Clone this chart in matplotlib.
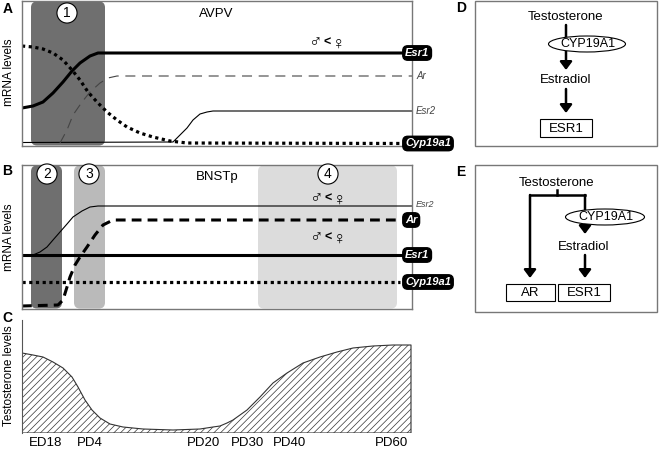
import matplotlib.pyplot as plt
from matplotlib.patches import FancyBboxPatch, Ellipse, Rectangle, FancyArrowPatch

plt.rcParams['font.family'] = ['Liberation Sans', 'DejaVu Sans']
plt.rcParams['hatch.linewidth'] = 0.5

# x = schematic developmental position (same scale for A, B, C), y = relative level

# panel A, AVPV
a_esr1_x = [0, 11, 21, 31, 41, 50, 58, 68, 76, 390]
a_esr1_y = [38, 40, 44, 53, 64, 75, 83, 90, 93, 93]
a_cyp_x = [0, 11, 21, 31, 41, 50, 58, 66, 75, 85, 95, 105, 118, 131, 148, 165, 390]
a_cyp_y = [100, 99, 97, 93, 86, 76, 66, 54, 44, 34, 26, 19, 13, 9, 5, 3, 2.5]
a_ar_x = [38, 45, 51, 60, 68, 78, 86, 95, 390]
a_ar_y = [3, 16, 31, 44, 54, 63, 68, 70, 70]
a_esr2_x = [0, 151, 158, 165, 171, 178, 185, 191, 390]
a_esr2_y = [3.5, 4, 11, 18, 26, 32, 34, 35, 35]

# panel B, BNSTp
b_esr1_x = [0, 390]
b_esr1_y = [54, 54]
b_cyp_x = [0, 378]
b_cyp_y = [27, 27]
b_ar_x = [0, 36, 41, 45, 48, 53, 58, 65, 73, 81, 91, 378]
b_ar_y = [3, 4, 9, 22, 32, 44, 52, 62, 74, 84, 89, 89]
b_esr2_x = [11, 18, 25, 31, 38, 45, 51, 60, 68, 76, 390]
b_esr2_y = [54, 57, 62, 69, 77, 85, 92, 98, 102, 103, 103]

# panel C, testosterone
c_x = [0, 11, 21, 31, 41, 50, 56, 63, 70, 78, 88, 101, 121, 151, 178, 191, 198,
       205, 211, 225, 238, 251, 265, 281, 298, 315, 331, 351, 371, 389]
c_y = [80, 78, 76, 71, 65, 56, 46, 33, 23, 15, 9, 6, 4, 3, 4, 6, 7,
       10, 13, 23, 36, 50, 60, 70, 76, 81, 85, 87, 88, 88]
c_ticks = [24, 68, 181, 225, 267, 370]
c_labels = ['ED18', 'PD4', 'PD20', 'PD30', 'PD40', 'PD60']

W, H = 661, 449
fig = plt.figure(figsize=(W / 100, H / 100), dpi=100)


def px_axes(l, t, r, b):
    return fig.add_axes([l / W, 1 - b / H, (r - l) / W, (b - t) / H])


def frame(ax):
    ax.set_xticks([])
    ax.set_yticks([])
    for s in ax.spines.values():
        s.set_color('#777777')
        s.set_linewidth(1)


def window(ax, x0, x1, y0, y1, color):
    ax.add_patch(FancyBboxPatch((x0, y0), x1 - x0, y1 - y0,
                                boxstyle='round,pad=0,rounding_size=6',
                                fc=color, ec='none', zorder=0))


def circ(ax, x, y, s):
    ax.text(x, y, s, ha='center', va='center', fontsize=10,
            bbox=dict(boxstyle='circle,pad=0.22', fc='white', ec='black', lw=0.8))


def tag(ax, y, s):
    ax.text(383, y, s, ha='left', va='center', fontsize=8, color='white',
            fontweight='bold', style='italic', clip_on=False, zorder=5,
            bbox=dict(boxstyle='round,pad=0.2,rounding_size=0.45', fc='black', ec='black'))


def thin_tag(ax, y, s, size=7):
    ax.text(394, y, s, ha='left', va='center', fontsize=size, color='#444444',
            style='italic', clip_on=False)


def sexdiff(ax, x, y):
    ax.text(x - 12, y, '\u2642', ha='center', va='center', fontsize=13)
    ax.text(x, y, '<', ha='center', va='center', fontsize=9, fontweight='bold')
    ax.text(x + 12, y - 1, '\u2640', ha='center', va='center', fontsize=13)


# ---------------- A
ax_a = px_axes(22, 1, 412, 146)
ax_a.set_xlim(0, 390)
ax_a.set_ylim(0, 145)
frame(ax_a)
window(ax_a, 9, 83, 0.5, 144.5, '#6f6f6f')
ax_a.plot(a_esr2_x, a_esr2_y, color='black', lw=0.8)
ax_a.plot(a_ar_x, a_ar_y, color='#444444', lw=0.8, linestyle=(0, (9, 6)))
ax_a.plot(a_cyp_x, a_cyp_y, color='black', lw=2.3, linestyle=(0, (1, 1.1)))
ax_a.plot(a_esr1_x, a_esr1_y, color='black', lw=2.2)
circ(ax_a, 45, 133, '1')
ax_a.text(194, 132, 'AVPV', ha='center', va='center', fontsize=9.5)
sexdiff(ax_a, 305, 103)
tag(ax_a, 93, 'Esr1')
tag(ax_a, 2.5, 'Cyp19a1')
thin_tag(ax_a, 70, 'Ar')
thin_tag(ax_a, 35, 'Esr2')
ax_a.set_ylabel('mRNA levels', fontsize=8.5)
ax_a.yaxis.set_label_coords(-0.017, 0.51)

# ---------------- B
ax_b = px_axes(22, 165, 412, 309)
ax_b.set_xlim(0, 390)
ax_b.set_ylim(0, 144)
frame(ax_b)
window(ax_b, 9, 40, 0.5, 143.5, '#6f6f6f')
window(ax_b, 52, 83, 0.5, 143.5, '#bababa')
window(ax_b, 236, 375, 0.5, 143.5, '#dcdcdc')
ax_b.plot(b_esr2_x, b_esr2_y, color='black', lw=0.8)
ax_b.plot(b_cyp_x, b_cyp_y, color='black', lw=2.3, linestyle=(0, (1, 1.1)))
ax_b.plot(b_ar_x, b_ar_y, color='black', lw=2.2, linestyle=(0, (3.2, 2)))
ax_b.plot(b_esr1_x, b_esr1_y, color='black', lw=2.2)
circ(ax_b, 25, 135, '2')
circ(ax_b, 67, 135, '3')
circ(ax_b, 306, 135, '4')
ax_b.text(195, 132, 'BNSTp', ha='center', va='center', fontsize=9.5)
sexdiff(ax_b, 306, 110)
sexdiff(ax_b, 306, 71)
tag(ax_b, 89, 'Ar')
tag(ax_b, 54, 'Esr1')
tag(ax_b, 27, 'Cyp19a1')
thin_tag(ax_b, 104, 'Esr2', 6.5)
ax_b.set_ylabel('mRNA levels', fontsize=8.5)
ax_b.yaxis.set_label_coords(-0.017, 0.5)

# ---------------- C
ax_c = px_axes(22, 320, 412, 433)
ax_c.set_xlim(0, 390)
ax_c.set_ylim(0, 113)
ax_c.fill_between(c_x, 0, c_y, facecolor='white', edgecolor='#333333',
                  hatch='/////', lw=0.8)
for s in ['top', 'right', 'bottom']:
    ax_c.spines[s].set_visible(False)
ax_c.spines['left'].set_color('#555555')
ax_c.set_yticks([])
ax_c.set_xticks(c_ticks)
ax_c.set_xticklabels(c_labels, fontsize=9.5)
ax_c.tick_params(axis='x', length=0, pad=3)
ax_c.set_ylabel('Testosterone levels', fontsize=8.5)
ax_c.yaxis.set_label_coords(-0.017, 0.51)

# ---------------- overlay in pixel units: letters, D, E
ov = fig.add_axes([0, 0, 1, 1])
ov.set_xlim(0, W)
ov.set_ylim(H, 0)
ov.axis('off')
ov.patch.set_alpha(0)

for s, x, y in [('A', 8, 9), ('B', 7, 171), ('C', 7, 318), ('D', 461, 8), ('E', 461, 172)]:
    ov.text(x, y, s, ha='center', va='center', fontsize=10, fontweight='bold')


def arrow(x, y0, y1):
    ov.add_patch(FancyArrowPatch((x, y0), (x, y1),
                                 arrowstyle='-|>,head_length=0.4,head_width=0.3',
                                 mutation_scale=12, lw=1.8, color='black',
                                 shrinkA=0, shrinkB=0))


def enzyme(x, y, w):
    ov.add_patch(Ellipse((x, y), w, 16, fc='white', ec='black', lw=0.8, zorder=4))
    ov.text(x + 1, y, 'CYP19A1', ha='center', va='center', fontsize=9, zorder=5)


def target(x0, x1, y0, y1, s):
    ov.add_patch(Rectangle((x0, y0), x1 - x0, y1 - y0, fc='white', ec='black', lw=0.8))
    ov.text((x0 + x1) / 2, (y0 + y1) / 2 + 0.5, s, ha='center', va='center', fontsize=9.5)


# D
ov.add_patch(Rectangle((475, 1), 182, 145, fc='none', ec='#777777', lw=1))
ov.text(566, 17, 'Testosterone', ha='center', va='center', fontsize=9.5)
arrow(566, 25, 70)
enzyme(587, 44, 77)
ov.text(566, 80, 'Estradiol', ha='center', va='center', fontsize=9.5)
arrow(566, 89, 113)
target(540, 592, 119, 137, 'ESR1')

# E
ov.add_patch(Rectangle((475, 165), 182, 147, fc='none', ec='#777777', lw=1))
ov.text(557, 183, 'Testosterone', ha='center', va='center', fontsize=9.5)
ov.plot([557, 557], [190, 195], color='black', lw=1.8)
ov.plot([530, 585], [195, 195], color='black', lw=1.8, solid_capstyle='projecting')
arrow(530, 195, 278)
arrow(585, 195, 234)
enzyme(605, 217, 79)
ov.text(584, 247, 'Estradiol', ha='center', va='center', fontsize=9.5)
arrow(585, 255, 278)
target(506, 555, 284, 301, 'AR')
target(558, 610, 284, 301, 'ESR1')

fig.savefig('out.png', dpi=100)
